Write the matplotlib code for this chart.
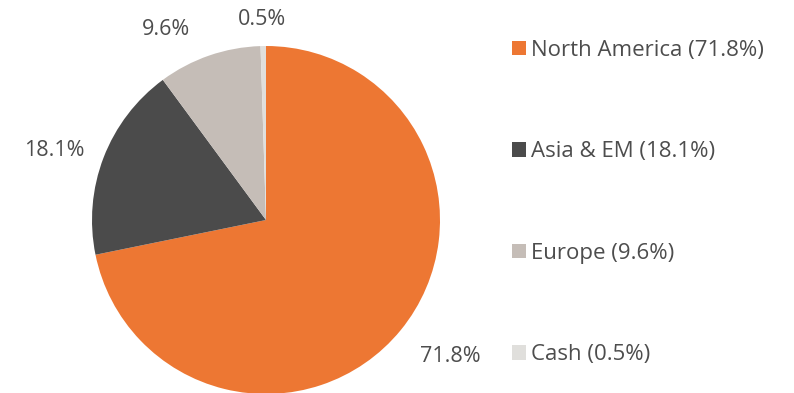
import matplotlib.pyplot as plt
from matplotlib.patches import Patch

regions = ["North America", "Asia & EM", "Europe", "Cash"]
shares = [71.8, 18.1, 9.6, 0.5]
colors = ["#ED7733", "#4B4B4B", "#C5BDB7", "#E0DFDC"]

# label anchor points in pie units (radius = 1)
label_pos = [(1.057, -0.787), (-1.218, 0.402), (-0.575, 1.092), (-0.023, 1.155)]

TEXT = "#4D4D4D"
plt.rcParams["font.family"] = ["Open Sans", "DejaVu Sans"]

fig = plt.figure(figsize=(7.94, 3.93), dpi=100)
W, H = 794, 393
cx, cy, r = 266, 220, 174
ax = fig.add_axes([(cx - r) / W, (H - cy - r) / H, 2 * r / W, 2 * r / H])

wedges, _ = ax.pie(
    shares,
    colors=colors,
    startangle=90,
    counterclock=False,
    radius=1,
    wedgeprops=dict(linewidth=0),
)
ax.set_xlim(-1, 1)
ax.set_ylim(-1, 1)
ax.set_aspect("equal")
ax.axis("off")

for v, (x, y) in zip(shares, label_pos):
    ax.text(x, y, f"{v}%", ha="center", va="center", fontsize=15.5,
            color=TEXT, clip_on=False)

handles = [Patch(facecolor=c, edgecolor="none") for c in colors]
labels = [f"{n} ({v}%)" for n, v in zip(regions, shares)]
fig.legend(
    handles, labels,
    loc="upper left",
    bbox_to_anchor=(503 / W, 1 - 31 / H),
    frameon=False,
    fontsize=16,
    labelcolor=TEXT,
    handlelength=0.62,
    handleheight=0.62,
    handletextpad=0.25,
    labelspacing=3.62,
    borderaxespad=0,
)

fig.savefig("out.png", dpi=100)
